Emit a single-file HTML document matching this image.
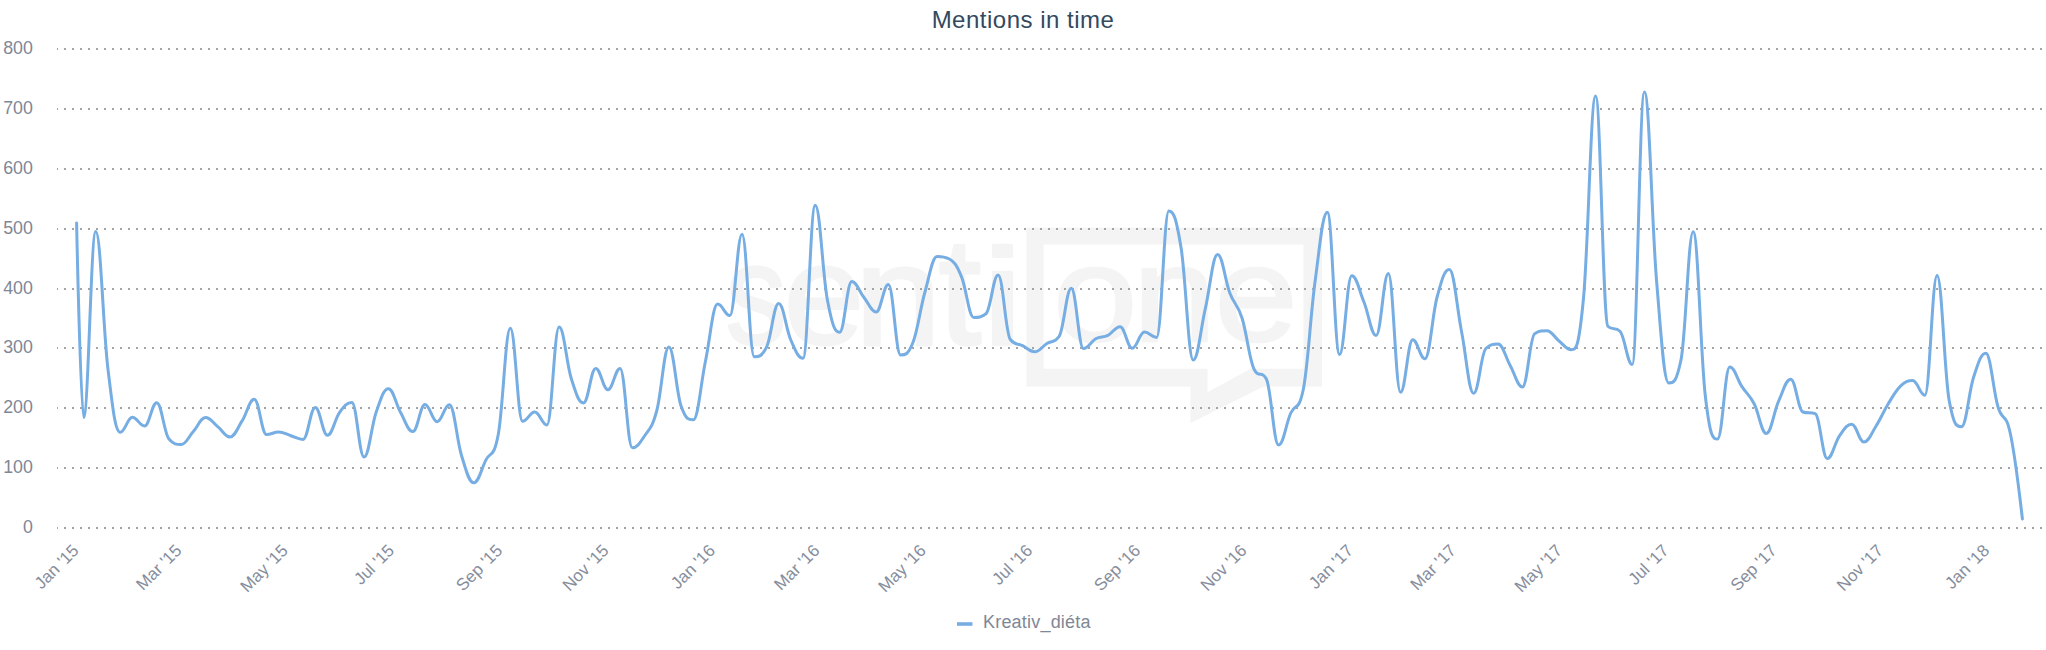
<!DOCTYPE html>
<html><head><meta charset="utf-8"><title>Mentions in time</title>
<style>
html,body{margin:0;padding:0;background:#fff;}
body{width:2046px;height:650px;overflow:hidden;}
svg{display:block;font-family:"Liberation Sans",Arial,sans-serif;}
</style></head><body>
<svg width="2046" height="650" viewBox="0 0 2046 650">
<rect width="2046" height="650" fill="#fff"/>
<g id="wm" fill="#f4f4f4" stroke="#f4f4f4" stroke-width="2" stroke-linejoin="round" font-size="100">
<text transform="matrix(1.2114 0 0 1.4210 725.67 344.08)">s</text>
<text transform="matrix(1.4468 0 0 1.4210 783.85 344.08)">e</text>
<text transform="matrix(1.5621 0 0 1.4326 854.46 345.00)">n</text>
<text transform="matrix(1.5294 0 0 1.5249 938.71 344.36)">t</text>
<text transform="matrix(1.9429 0 0 1.3655 980.89 345.00)">i</text>
<text transform="matrix(1.5111 0 0 1.3516 1053.18 340.65)">o</text>
<text transform="matrix(1.4911 0 0 1.3581 1132.93 341.00)">n</text>
<text transform="matrix(1.4894 0 0 1.3516 1214.67 340.65)">e</text>
</g>
<path fill="#f4f4f4" fill-rule="evenodd" d="M1026.5 227.7H1322V386.4H1263.8L1190.5 423V386.4H1026.5Z M1043.5 244.5V368.7H1207.5V392.3L1250.7 368.7H1303.5V244.5Z"/>
<g stroke="#a4a4a4" stroke-width="2" stroke-dasharray="2 6" stroke-dashoffset="1"><line x1="57" y1="49" x2="2042" y2="49"/><line x1="57" y1="109" x2="2042" y2="109"/><line x1="57" y1="169" x2="2042" y2="169"/><line x1="57" y1="229" x2="2042" y2="229"/><line x1="57" y1="289" x2="2042" y2="289"/><line x1="57" y1="348" x2="2042" y2="348"/><line x1="57" y1="408" x2="2042" y2="408"/><line x1="57" y1="468" x2="2042" y2="468"/><line x1="57" y1="528" x2="2042" y2="528"/></g>
<g fill="#7f8796" font-size="17.8" text-anchor="end"><text x="32.8" y="54.2">800</text><text x="32.8" y="114.2">700</text><text x="32.8" y="174.2">600</text><text x="32.8" y="234.2">500</text><text x="32.8" y="294.2">400</text><text x="32.8" y="353.2">300</text><text x="32.8" y="413.2">200</text><text x="32.8" y="473.2">100</text><text x="32.8" y="533.2">0</text></g>
<path d="M76.60 223.00 C76.60 223.00 80.78 417.50 83.57 417.50 C88.45 417.50 90.88 231.50 95.76 231.50 C100.64 231.50 103.08 328.84 107.96 369.00 C112.83 409.16 115.27 432.30 120.15 432.30 C125.03 432.30 127.47 417.30 132.34 417.30 C137.22 417.30 139.66 426.00 144.54 426.00 C149.42 426.00 151.85 402.70 156.73 402.70 C161.61 402.70 164.05 433.40 168.93 439.00 C173.80 444.60 176.24 444.60 181.12 444.60 C186.00 444.60 188.44 436.92 193.31 431.50 C198.19 426.08 200.63 417.50 205.51 417.50 C210.39 417.50 212.82 422.70 217.70 426.60 C222.58 430.50 225.02 437.00 229.90 437.00 C234.77 437.00 237.21 428.44 242.09 420.90 C246.97 413.36 249.41 399.30 254.28 399.30 C259.16 399.30 261.60 434.50 266.48 434.50 C271.36 434.50 273.79 432.00 278.67 432.00 C283.55 432.00 285.99 434.22 290.87 435.70 C295.74 437.18 298.18 439.40 303.06 439.40 C307.94 439.40 310.38 407.40 315.25 407.40 C320.13 407.40 322.57 435.20 327.45 435.20 C332.33 435.20 334.76 418.84 339.64 412.30 C344.52 405.76 346.96 402.50 351.84 402.50 C356.71 402.50 359.15 457.10 364.03 457.10 C368.91 457.10 371.35 425.68 376.22 412.00 C381.10 398.32 383.54 388.70 388.42 388.70 C393.30 388.70 395.73 404.02 400.61 412.60 C405.49 421.18 407.93 431.60 412.81 431.60 C417.68 431.60 420.12 404.50 425.00 404.50 C429.88 404.50 432.32 421.70 437.19 421.70 C442.07 421.70 444.51 404.70 449.39 404.70 C454.27 404.70 456.70 440.08 461.58 455.70 C466.46 471.32 468.90 482.80 473.78 482.80 C478.65 482.80 481.09 469.46 485.97 459.90 C490.85 450.34 493.29 459.90 498.16 435.00 C503.04 410.10 505.48 328.30 510.36 328.30 C515.24 328.30 517.67 421.30 522.55 421.30 C527.43 421.30 529.87 412.00 534.75 412.00 C539.62 412.00 542.06 425.00 546.94 425.00 C551.82 425.00 554.26 327.10 559.13 327.10 C564.01 327.10 566.45 363.64 571.33 378.80 C576.21 393.96 578.64 402.90 583.52 402.90 C588.40 402.90 590.84 368.40 595.72 368.40 C600.59 368.40 603.03 389.80 607.91 389.80 C612.79 389.80 615.23 368.40 620.10 368.40 C624.98 368.40 627.42 447.70 632.30 447.70 C637.18 447.70 639.61 443.34 644.49 436.00 C649.37 428.66 651.81 428.80 656.69 411.00 C661.56 393.20 664.00 347.00 668.88 347.00 C673.76 347.00 676.20 392.20 681.07 406.00 C685.95 419.80 688.39 419.80 693.27 419.80 C698.15 419.80 700.58 384.34 705.46 361.20 C710.34 338.06 712.78 304.10 717.66 304.10 C722.53 304.10 724.97 315.60 729.85 315.60 C734.73 315.60 737.17 234.30 742.04 234.30 C746.92 234.30 749.36 356.80 754.24 356.80 C759.12 356.80 761.55 356.80 766.43 347.50 C771.31 338.20 773.75 303.50 778.63 303.50 C783.50 303.50 785.94 329.06 790.82 340.00 C795.70 350.94 798.14 358.20 803.01 358.20 C807.89 358.20 810.33 205.30 815.21 205.30 C820.09 205.30 822.52 274.60 827.40 300.00 C832.28 325.40 834.72 332.30 839.60 332.30 C844.47 332.30 846.91 281.60 851.79 281.60 C856.67 281.60 859.11 291.44 863.98 297.50 C868.86 303.56 871.30 311.90 876.18 311.90 C881.06 311.90 883.49 284.50 888.37 284.50 C893.25 284.50 895.69 355.00 900.57 355.00 C905.44 355.00 907.88 355.00 912.76 343.00 C917.64 331.00 920.08 309.30 924.95 292.00 C929.83 274.70 932.27 256.50 937.15 256.50 C942.03 256.50 944.46 256.50 949.34 259.00 C954.22 261.50 956.66 265.12 961.54 276.80 C966.41 288.48 968.85 317.40 973.73 317.40 C978.61 317.40 981.05 317.40 985.92 313.70 C990.80 310.00 993.24 275.00 998.12 275.00 C1003.00 275.00 1005.43 333.30 1010.31 339.50 C1015.19 345.70 1017.63 343.24 1022.51 345.70 C1027.38 348.16 1029.82 351.80 1034.70 351.80 C1039.58 351.80 1042.02 346.56 1046.89 343.50 C1051.77 340.44 1054.21 343.50 1059.09 336.50 C1063.97 329.50 1066.40 288.30 1071.28 288.30 C1076.16 288.30 1078.60 348.60 1083.48 348.60 C1088.35 348.60 1090.79 341.44 1095.67 338.80 C1100.55 336.16 1102.99 337.82 1107.86 335.40 C1112.74 332.98 1115.18 326.70 1120.06 326.70 C1124.94 326.70 1127.37 348.20 1132.25 348.20 C1137.13 348.20 1139.57 332.00 1144.45 332.00 C1149.32 332.00 1151.76 337.40 1156.64 337.40 C1161.52 337.40 1163.96 210.90 1168.83 210.90 C1173.71 210.90 1176.15 217.68 1181.03 247.50 C1185.91 277.32 1188.34 360.00 1193.22 360.00 C1198.10 360.00 1200.54 329.30 1205.42 308.20 C1210.29 287.10 1212.73 254.50 1217.61 254.50 C1222.49 254.50 1224.93 280.30 1229.80 293.00 C1234.68 305.70 1237.12 302.70 1242.00 318.00 C1246.88 333.30 1249.31 360.00 1254.19 369.50 C1259.07 379.00 1261.51 369.50 1266.39 379.00 C1271.26 388.50 1273.70 445.00 1278.58 445.00 C1283.46 445.00 1285.90 423.80 1290.77 413.00 C1295.65 402.20 1298.09 413.00 1302.97 391.00 C1307.85 369.00 1310.28 316.54 1315.16 280.80 C1320.04 245.06 1322.48 212.30 1327.36 212.30 C1332.23 212.30 1334.67 354.50 1339.55 354.50 C1344.43 354.50 1346.87 275.80 1351.74 275.80 C1356.62 275.80 1359.06 290.06 1363.94 302.00 C1368.82 313.94 1371.25 335.50 1376.13 335.50 C1381.01 335.50 1383.45 273.60 1388.33 273.60 C1393.20 273.60 1395.64 392.30 1400.52 392.30 C1405.40 392.30 1407.84 339.80 1412.71 339.80 C1417.59 339.80 1420.03 358.80 1424.91 358.80 C1429.79 358.80 1432.22 314.86 1437.10 297.00 C1441.98 279.14 1444.42 269.50 1449.30 269.50 C1454.17 269.50 1456.61 306.44 1461.49 331.20 C1466.37 355.96 1468.81 393.30 1473.68 393.30 C1478.56 393.30 1481.00 353.00 1485.88 348.50 C1490.76 344.00 1493.19 344.00 1498.07 344.00 C1502.95 344.00 1505.39 357.10 1510.27 365.70 C1515.14 374.30 1517.58 387.00 1522.46 387.00 C1527.34 387.00 1529.78 336.70 1534.65 333.70 C1539.53 330.70 1541.97 330.70 1546.85 330.70 C1551.73 330.70 1554.16 337.20 1559.04 341.00 C1563.92 344.80 1566.36 349.70 1571.24 349.70 C1576.11 349.70 1578.55 349.70 1583.43 299.00 C1588.31 248.30 1590.75 96.00 1595.62 96.00 C1600.50 96.00 1602.94 321.40 1607.82 326.30 C1612.70 331.20 1615.13 326.30 1620.01 331.20 C1624.89 336.10 1627.33 364.50 1632.21 364.50 C1637.08 364.50 1639.52 92.00 1644.40 92.00 C1649.28 92.00 1651.72 222.80 1656.59 281.00 C1661.47 339.20 1663.91 383.00 1668.79 383.00 C1673.67 383.00 1676.10 383.00 1680.98 360.00 C1685.86 337.00 1688.30 231.80 1693.18 231.80 C1698.05 231.80 1700.49 355.06 1705.37 396.50 C1710.25 437.94 1712.69 439.00 1717.56 439.00 C1722.44 439.00 1724.88 367.00 1729.76 367.00 C1734.64 367.00 1737.07 379.24 1741.95 386.60 C1746.83 393.96 1749.27 394.44 1754.15 403.80 C1759.02 413.16 1761.46 433.40 1766.34 433.40 C1771.22 433.40 1773.66 412.24 1778.53 401.40 C1783.41 390.56 1785.85 379.20 1790.73 379.20 C1795.61 379.20 1798.04 410.30 1802.92 412.00 C1807.80 413.70 1810.24 412.00 1815.12 413.70 C1819.99 415.40 1822.43 458.50 1827.31 458.50 C1832.19 458.50 1834.63 442.64 1839.50 435.80 C1844.38 428.96 1846.82 424.30 1851.70 424.30 C1856.58 424.30 1859.01 442.00 1863.89 442.00 C1868.77 442.00 1871.21 433.64 1876.09 426.00 C1880.96 418.36 1883.40 411.78 1888.28 403.80 C1893.16 395.82 1895.60 390.76 1900.47 386.10 C1905.35 381.44 1907.79 380.50 1912.67 380.50 C1917.55 380.50 1919.98 395.20 1924.86 395.20 C1929.74 395.20 1932.18 275.50 1937.06 275.50 C1941.93 275.50 1944.37 375.20 1949.25 401.00 C1954.13 426.80 1956.57 426.80 1961.44 426.80 C1966.32 426.80 1968.76 391.72 1973.64 377.00 C1978.52 362.28 1980.95 353.20 1985.83 353.20 C1990.71 353.20 1993.15 391.04 1998.03 407.00 C2002.90 422.96 2005.34 410.60 2010.22 433.00 C2015.10 455.40 2022.41 519.00 2022.41 519.00" fill="none" stroke="#76ade3" stroke-width="3" stroke-linecap="round" stroke-linejoin="round"/>
<g fill="#868d9c" font-size="17" text-anchor="end"><text x="79.8" y="551.5" transform="rotate(-45 79.8 551.5)">Jan &#39;15</text><text x="182.7" y="551.5" transform="rotate(-45 182.7 551.5)">Mar &#39;15</text><text x="289.0" y="551.5" transform="rotate(-45 289.0 551.5)">May &#39;15</text><text x="395.3" y="551.5" transform="rotate(-45 395.3 551.5)">Jul &#39;15</text><text x="503.4" y="551.5" transform="rotate(-45 503.4 551.5)">Sep &#39;15</text><text x="609.8" y="551.5" transform="rotate(-45 609.8 551.5)">Nov &#39;15</text><text x="716.1" y="551.5" transform="rotate(-45 716.1 551.5)">Jan &#39;16</text><text x="820.7" y="551.5" transform="rotate(-45 820.7 551.5)">Mar &#39;16</text><text x="927.0" y="551.5" transform="rotate(-45 927.0 551.5)">May &#39;16</text><text x="1033.4" y="551.5" transform="rotate(-45 1033.4 551.5)">Jul &#39;16</text><text x="1141.5" y="551.5" transform="rotate(-45 1141.5 551.5)">Sep &#39;16</text><text x="1247.8" y="551.5" transform="rotate(-45 1247.8 551.5)">Nov &#39;16</text><text x="1354.2" y="551.5" transform="rotate(-45 1354.2 551.5)">Jan &#39;17</text><text x="1457.0" y="551.5" transform="rotate(-45 1457.0 551.5)">Mar &#39;17</text><text x="1563.3" y="551.5" transform="rotate(-45 1563.3 551.5)">May &#39;17</text><text x="1669.7" y="551.5" transform="rotate(-45 1669.7 551.5)">Jul &#39;17</text><text x="1777.8" y="551.5" transform="rotate(-45 1777.8 551.5)">Sep &#39;17</text><text x="1884.1" y="551.5" transform="rotate(-45 1884.1 551.5)">Nov &#39;17</text><text x="1990.5" y="551.5" transform="rotate(-45 1990.5 551.5)">Jan &#39;18</text></g>
<text x="1023" y="28" text-anchor="middle" font-size="24" letter-spacing="0.5" fill="#34495e">Mentions in time</text>
<line x1="957" y1="624" x2="972.5" y2="624" stroke="#76ade3" stroke-width="3.6"/>
<text x="983" y="628" font-size="18" letter-spacing="0.2" fill="#7f8796">Kreativ_di&#233;ta</text>
</svg>
</body></html>
